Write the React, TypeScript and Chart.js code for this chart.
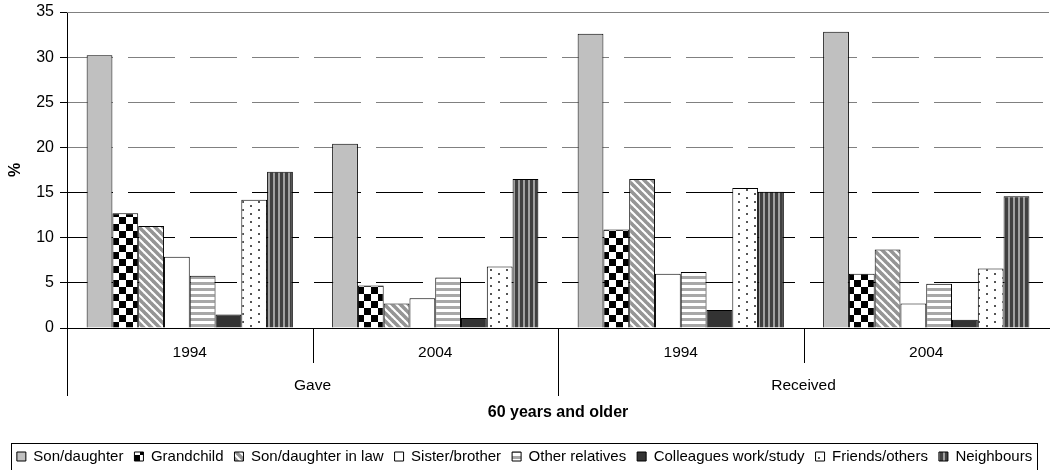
import React, { useEffect, useRef } from 'react';
import { Chart, registerables } from 'chart.js';

Chart.register(...registerables);

const FONT = "'Liberation Sans', Arial, Helvetica, sans-serif";

// ---- data ----
const years = ['1994', '2004'];
const groups = ['Gave', 'Received'];
const seriesNames = [
  'Son/daughter',
  'Grandchild',
  'Son/daughter in law',
  'Sister/brother',
  'Other relatives',
  'Colleagues work/study',
  'Friends/others',
  'Neighbours',
];
const sonDaughter = [30.2, 20.4, 32.6, 32.8];
const grandchild = [12.7, 4.7, 10.9, 6.0];
const sonDaughterInLaw = [11.3, 2.7, 16.5, 8.7];
const sisterBrother = [7.9, 3.3, 6.0, 2.7];
const otherRelatives = [5.8, 5.6, 6.2, 4.9];
const colleagues = [1.5, 1.1, 2.0, 0.9];
const friendsOthers = [14.2, 6.8, 15.5, 6.6];
const neighbours = [17.3, 16.5, 15.1, 14.6];
const yMin = 0;
const yMax = 35;
const yStep = 5;
const axisTitleY = '%';
const axisTitleX = '60 years and older';

const categoryLabels = groups.flatMap(() => years);

function makePattern(w: number, h: number, draw: (c: CanvasRenderingContext2D) => void) {
  const cv = document.createElement('canvas');
  cv.width = w;
  cv.height = h;
  const c = cv.getContext('2d')!;
  draw(c);
  return c.createPattern(cv, 'repeat')!;
}

function buildFills() {
  const checker = makePattern(14, 14, (c) => {
    c.fillStyle = '#fff';
    c.fillRect(0, 0, 14, 14);
    c.fillStyle = '#000';
    c.fillRect(0, 0, 7, 7);
    c.fillRect(7, 7, 7, 7);
  });
  const diag = makePattern(8, 8, (c) => {
    c.fillStyle = '#fff';
    c.fillRect(0, 0, 8, 8);
    c.strokeStyle = '#959595';
    c.lineWidth = 3.6;
    for (let k = -2; k <= 2; k++) {
      c.beginPath();
      c.moveTo(k * 8 - 1, -1);
      c.lineTo(k * 8 + 9, 9);
      c.stroke();
    }
  });
  const hstripe = makePattern(4, 6, (c) => {
    c.fillStyle = '#fff';
    c.fillRect(0, 0, 4, 6);
    c.fillStyle = '#a8a8a8';
    c.fillRect(0, 0, 4, 3);
  });
  const dots = makePattern(16, 8, (c) => {
    c.fillStyle = '#fff';
    c.fillRect(0, 0, 16, 8);
    c.fillStyle = '#555';
    c.fillRect(2, 1, 2, 2);
    c.fillRect(10, 5, 2, 2);
  });
  const vstripe = makePattern(5, 4, (c) => {
    c.fillStyle = '#a0a0a0';
    c.fillRect(0, 0, 5, 4);
    c.fillStyle = '#404040';
    c.fillRect(0, 0, 3, 4);
  });
  return ['#c0c0c0', checker, diag, '#ffffff', hstripe, '#333333', dots, vstripe];
}

const lowerAxisPlugin = {
  id: 'lowerAxis',
  afterDraw(chart: any) {
    const { ctx, scales } = chart;
    const x = scales.x;
    const n = x.ticks.length;
    const w = n > 1 ? x.getPixelForTick(1) - x.getPixelForTick(0) : x.width;
    const start = x.getPixelForTick(0) - w / 2;
    const base = chart.chartArea.bottom;
    ctx.save();
    ctx.strokeStyle = '#000';
    ctx.lineWidth = 1;
    const per = years.length;
    for (let i = 0; i < n; i++) {
      const bx = Math.round(start + i * w) + 0.5;
      const long = i % per === 0;
      ctx.beginPath();
      ctx.moveTo(bx, base);
      ctx.lineTo(bx, base + (long ? 68 : 35));
      ctx.stroke();
    }
    ctx.fillStyle = '#000';
    ctx.font = `15.5px ${FONT}`;
    ctx.textAlign = 'center';
    ctx.textBaseline = 'middle';
    groups.forEach((g, gi) => {
      const cx = start + (gi * per + per / 2) * w;
      ctx.fillText(g, cx, base + 58);
    });
    ctx.restore();
  },
};

const legendBoxPlugin = {
  id: 'legendBox',
  afterDraw(chart: any) {
    const lg = chart.legend;
    if (!lg || !lg.legendHitBoxes || !lg.legendHitBoxes.length) return;
    const hb = lg.legendHitBoxes;
    const first = hb[0];
    const last = hb[hb.length - 1];
    const left = Math.round(first.left - 6) + 0.5;
    const right = Math.round(last.left + last.width + 5) + 0.5;
    const top = Math.round(first.top + first.height / 2 - 14) + 0.5;
    const ctx = chart.ctx;
    ctx.save();
    ctx.strokeStyle = '#000';
    ctx.lineWidth = 1;
    ctx.strokeRect(left, top, right - left, 27);
    ctx.restore();
  },
};

export default function App() {
  const ref = useRef<HTMLCanvasElement>(null);
  useEffect(() => {
    const fills = buildFills();
    const values = [
      sonDaughter,
      grandchild,
      sonDaughterInLaw,
      sisterBrother,
      otherRelatives,
      colleagues,
      friendsOthers,
      neighbours,
    ];
    const chart = new Chart(ref.current!, {
      type: 'bar',
      data: {
        labels: categoryLabels,
        datasets: seriesNames.map((name, i) => ({
          label: name,
          data: values[i],
          backgroundColor: fills[i] as any,
          borderColor: '#000',
          borderWidth: 1,
          categoryPercentage: 0.84,
          barPercentage: 1,
        })),
      },
      options: {
        responsive: true,
        maintainAspectRatio: false,
        animation: false,
        layout: { padding: { top: 12, right: 1, bottom: -4, left: 0 } },
        plugins: {
          tooltip: { enabled: false },
          legend: {
            position: 'bottom',
            labels: {
              boxWidth: 9,
              boxHeight: 9,
              padding: 11,
              color: '#000',
              font: { family: FONT, size: 15 },
            },
          },
        },
        scales: {
          x: {
            afterFit: (s: any) => {
              s.height = 110;
              s.paddingLeft = 0;
              s.paddingRight = 0;
            },
            grid: { display: false, drawTicks: false },
            border: { display: true, color: '#000', width: 1 },
            ticks: { color: '#000', font: { family: FONT, size: 15.5 }, padding: 15 },
            title: {
              display: true,
              text: axisTitleX,
              color: '#000',
              font: { family: FONT, size: 16, weight: 'bold' },
              padding: { top: 0, bottom: 16 },
            },
          },
          y: {
            min: yMin,
            max: yMax,
            afterFit: (s: any) => {
              s.width = 67;
              s.paddingTop = 0;
              s.paddingBottom = 0;
            },
            ticks: { stepSize: yStep, color: '#000', font: { family: FONT, size: 16 }, padding: 6 },
            grid: {
              color: (c: any) => {
                const v = c.tick ? c.tick.value : 0;
                if (v === yMin || v === yMax) return 'rgba(0,0,0,0)';
                return v >= 20 ? '#808080' : '#000';
              },
              lineWidth: 1,
              tickLength: 7,
              tickColor: '#000',
            },
            border: { display: true, color: '#000', width: 1, dash: [47, 15], dashOffset: 2 },
            title: {
              display: true,
              text: axisTitleY,
              color: '#000',
              font: { family: FONT, size: 16, weight: 'bold' },
              padding: { top: 6, bottom: 0 },
            },
          },
        },
      },
      plugins: [
        lowerAxisPlugin,
        legendBoxPlugin,
        {
          id: 'topLine',
          beforeDatasetsDraw(chart: any) {
            const { ctx, chartArea } = chart;
            const y = Math.round(chart.scales.y.getPixelForValue(yMax)) + 0.5;
            ctx.save();
            ctx.strokeStyle = '#808080';
            ctx.lineWidth = 1;
            ctx.beginPath();
            ctx.moveTo(chartArea.left, y);
            ctx.lineTo(chartArea.right, y);
            ctx.stroke();
            ctx.restore();
          },
        },
      ],
    } as any);
    return () => chart.destroy();
  }, []);
  return (
    <div style={{ position: 'fixed', left: 0, top: 0, width: 1050, height: 470, background: '#fff' }}>
      <canvas ref={ref} />
    </div>
  );
}
